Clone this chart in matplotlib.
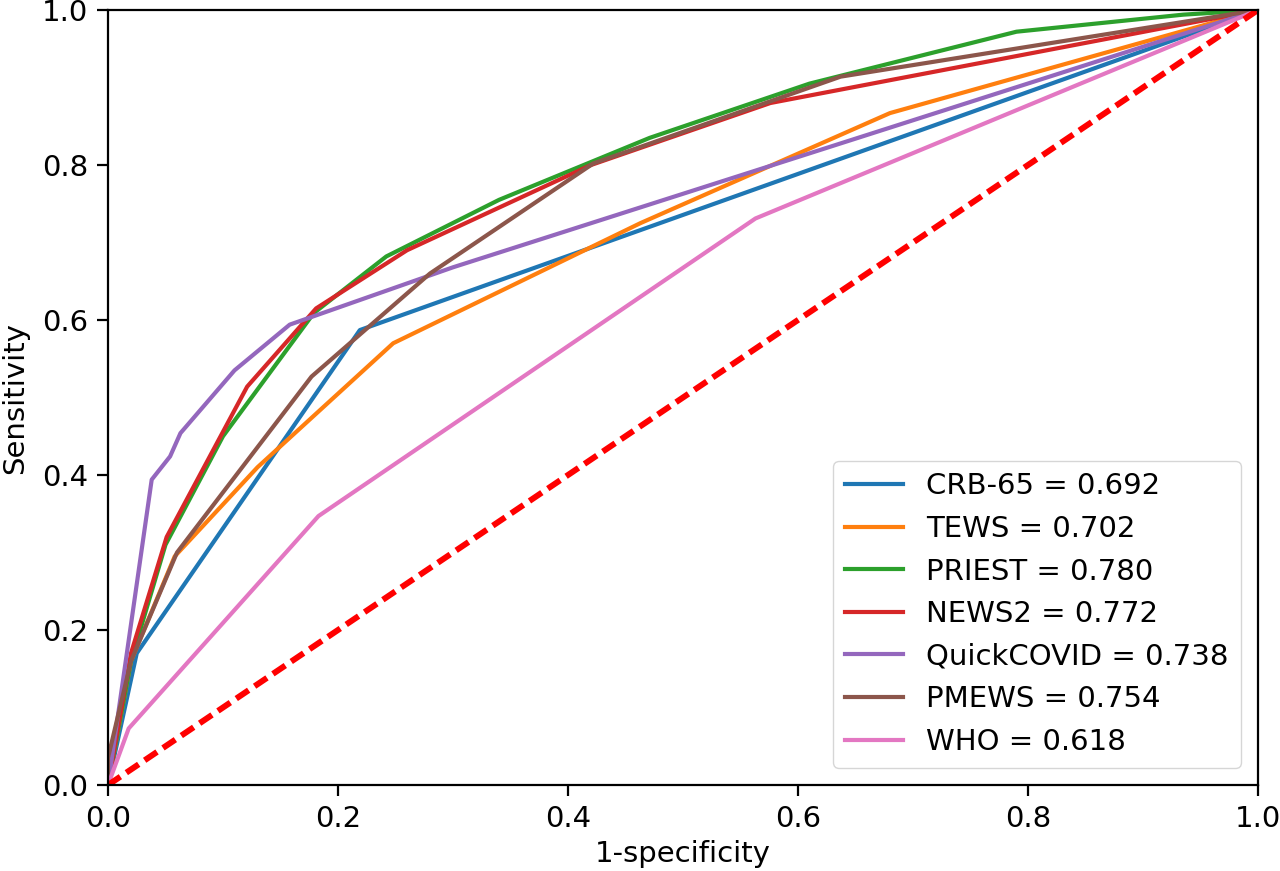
import matplotlib
matplotlib.use('Agg')
import matplotlib.pyplot as plt

# ROC curves (1-specificity, sensitivity)
crb65_fpr = [0.0, 0.025, 0.219, 1.0]
crb65_tpr = [0.0, 0.170, 0.587, 1.0]

tews_fpr = [0.0, 0.020, 0.058, 0.130, 0.248, 0.463, 0.680, 1.0]
tews_tpr = [0.0, 0.160, 0.295, 0.410, 0.570, 0.725, 0.867, 1.0]

priest_fpr = [0.0, 0.020, 0.050, 0.100, 0.179, 0.242, 0.340, 0.471, 0.610, 0.790, 0.935, 1.0]
priest_tpr = [0.0, 0.160, 0.310, 0.450, 0.609, 0.682, 0.755, 0.835, 0.905, 0.972, 0.994, 1.0]

news2_fpr = [0.0, 0.020, 0.051, 0.121, 0.181, 0.260, 0.420, 0.576, 1.0]
news2_tpr = [0.0, 0.170, 0.320, 0.514, 0.615, 0.690, 0.800, 0.880, 1.0]

quick_fpr = [0.0, 0.038, 0.054, 0.063, 0.110, 0.158, 0.300, 1.0]
quick_tpr = [0.0, 0.394, 0.424, 0.454, 0.535, 0.594, 0.668, 1.0]

pmews_fpr = [0.0, 0.0, 0.020, 0.060, 0.177, 0.280, 0.422, 0.637, 1.0]
pmews_tpr = [0.0, 0.035, 0.160, 0.300, 0.527, 0.660, 0.802, 0.914, 1.0]

who_fpr = [0.0, 0.018, 0.183, 0.563, 1.0]
who_tpr = [0.0, 0.073, 0.347, 0.731, 1.0]

labels = ['CRB-65 = 0.692', 'TEWS = 0.702', 'PRIEST = 0.780', 'NEWS2 = 0.772',
          'QuickCOVID = 0.738', 'PMEWS = 0.754', 'WHO = 0.618']

curves = [(crb65_fpr, crb65_tpr), (tews_fpr, tews_tpr), (priest_fpr, priest_tpr),
          (news2_fpr, news2_tpr), (quick_fpr, quick_tpr), (pmews_fpr, pmews_tpr),
          (who_fpr, who_tpr)]

fs = 21  # font size (pt at 100 dpi)

fig = plt.figure(figsize=(12.8, 8.71), dpi=100)
ax = fig.add_axes([108 / 1280, 1 - 785 / 871, 1150 / 1280, 775 / 871])

for (fpr, tpr), lab in zip(curves, labels):
    ax.plot(fpr, tpr, lw=3.0, label=lab)

ax.plot([0, 1], [0, 1], color='red', lw=4.3, linestyle=(0, (2.5, 1.2)))

ax.set_xlim(0, 1)
ax.set_ylim(0, 1)
# the reference crops this label at the bottom edge; keep it just inside here
ax.set_xlabel('1-specificity', fontsize=fs, labelpad=5)
ax.set_ylabel('Sensitivity', fontsize=fs, labelpad=9)
ax.tick_params(labelsize=fs, length=7.7, width=1.6, pad=6.5)
for sp in ax.spines.values():
    sp.set_linewidth(1.6)

ax.legend(loc='lower right', fontsize=fs, borderaxespad=0.6)

fig.savefig('out.png', dpi=100)
